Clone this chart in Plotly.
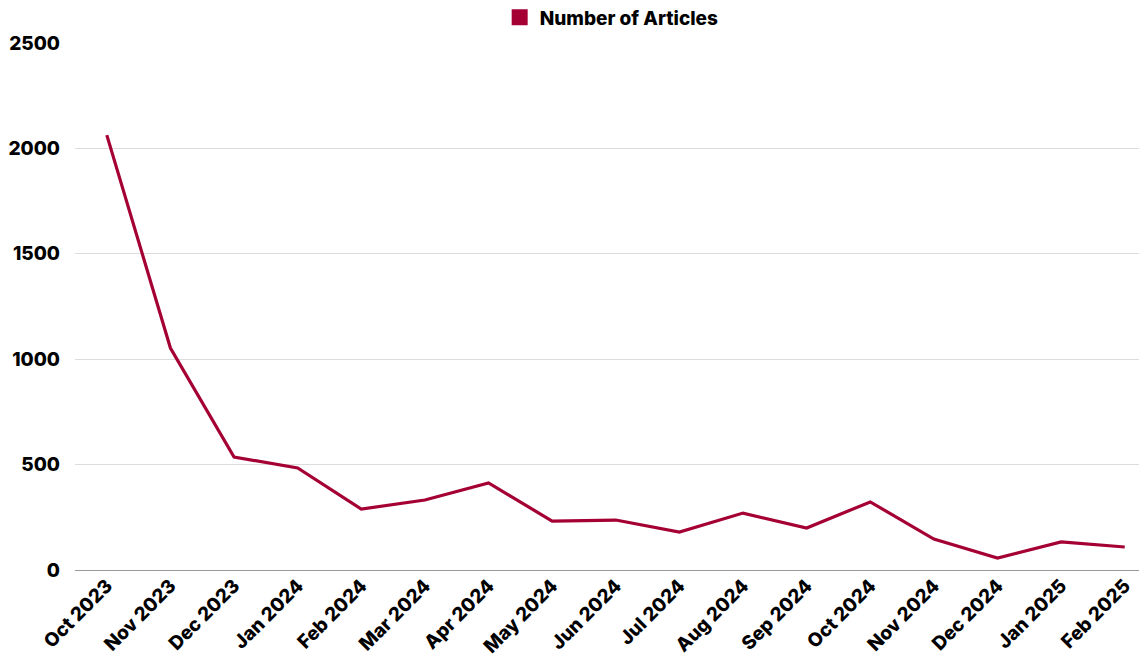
import plotly.graph_objects as go

months = ["Oct 2023", "Nov 2023", "Dec 2023", "Jan 2024", "Feb 2024", "Mar 2024", "Apr 2024",
          "May 2024", "Jun 2024", "Jul 2024", "Aug 2024", "Sep 2024", "Oct 2024", "Nov 2024",
          "Dec 2024", "Jan 2025", "Feb 2025"]
articles = [2063, 1053, 536, 484, 289, 332, 413, 232, 237, 180, 270, 199, 323, 147, 57, 133, 109]

color = "#A50034"
font_family = "Inter, Lato, sans-serif"

fig = go.Figure()
fig.add_trace(go.Scatter(x=months, y=articles, mode="lines", line=dict(color=color, width=3.2),
                         showlegend=False, name="Number of Articles"))
fig.add_trace(go.Scatter(x=[None], y=[None], mode="markers",
                         marker=dict(symbol="square", size=24, color=color),
                         name="Number of Articles", showlegend=True))

fig.update_layout(
    width=1139, height=652,
    margin=dict(l=67, r=0, t=35, b=90, autoexpand=False),
    plot_bgcolor="white", paper_bgcolor="white",
    font=dict(family=font_family, size=19, color="black", weight=800),
    legend=dict(orientation="h", x=0.53, xanchor="center", xref="container",
                y=1.0486, yanchor="middle", yref="paper",
                font=dict(size=19, weight=800), itemsizing="trace"),
    xaxis=dict(type="category", range=[-0.5, 16.35], tickangle=-45, showgrid=False,
               ticks="", automargin=False, tickfont=dict(size=19, weight=800)),
    yaxis=dict(range=[0, 2500], dtick=500, gridcolor="#dcdcdc", gridwidth=1,
               zeroline=True, zerolinecolor="#999999", zerolinewidth=1,
               ticks="", ticklabelstandoff=14, automargin=False,
               tickfont=dict(size=19, weight=800)),
)

fig.write_html("out.html")
